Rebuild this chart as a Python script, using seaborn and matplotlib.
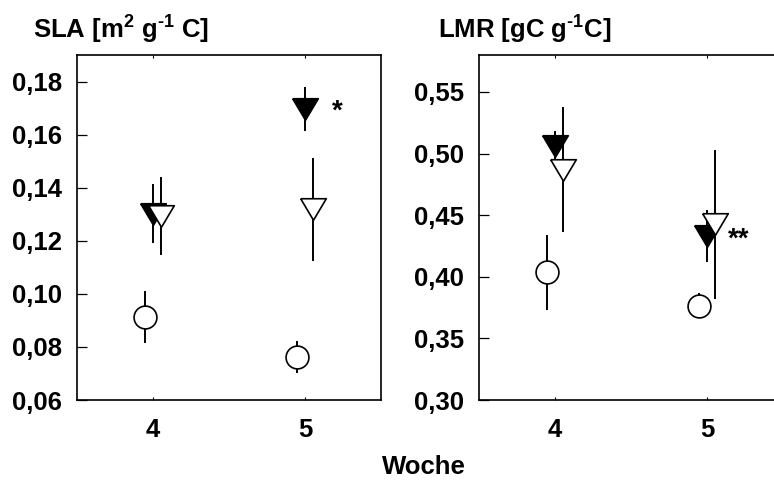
import matplotlib
matplotlib.use("Agg")
import matplotlib.pyplot as plt
from matplotlib.ticker import FuncFormatter, FixedLocator
import numpy as np
import pandas as pd
import seaborn as sns

# ---- data ----
weeks = [4, 5]
series = ["ctrl", "filled", "open"]
offsets = {"ctrl": -0.05, "filled": 0.0, "open": 0.05}

sla_ctrl = [0.0912, 0.0763]
sla_ctrl_err = [0.0097, 0.0060]
sla_filled = [0.1302, 0.1698]
sla_filled_err = [0.0112, 0.0083]
sla_open = [0.1294, 0.1318]
sla_open_err = [0.0146, 0.0193]

lmr_ctrl = [0.4038, 0.3765]
lmr_ctrl_err = [0.0305, 0.0100]
lmr_filled = [0.5065, 0.4330]
lmr_filled_err = [0.0122, 0.0210]
lmr_open = [0.4870, 0.4425]
lmr_open_err = [0.0505, 0.0605]

sla_ticks = [0.06, 0.08, 0.10, 0.12, 0.14, 0.16, 0.18]
lmr_ticks = [0.30, 0.35, 0.40, 0.45, 0.50, 0.55]
week_labels = ["4", "5"]

sla_stars = "*"
lmr_stars = "**"

# ---- style ----
sns.set_theme(style="ticks")
plt.rcParams["font.family"] = ["Liberation Sans", "DejaVu Sans"]
plt.rcParams["font.weight"] = "bold"
plt.rcParams["text.color"] = "black"
plt.rcParams["axes.labelcolor"] = "black"
plt.rcParams["xtick.color"] = "black"
plt.rcParams["ytick.color"] = "black"
plt.rcParams["mathtext.fontset"] = "custom"
plt.rcParams["mathtext.rm"] = "Liberation Sans:bold"
plt.rcParams["mathtext.it"] = "Liberation Sans:bold"
plt.rcParams["mathtext.bf"] = "Liberation Sans:bold"
plt.rcParams["mathtext.default"] = "rm"

# flattened downward triangle
tri_down = [(-1.0, 0.84), (1.0, 0.84), (0.0, -0.84), (-1.0, 0.84)]
styles = {
    "ctrl": dict(marker="o", face="white", s=270),
    "filled": dict(marker=tri_down, face="black", s=340),
    "open": dict(marker=tri_down, face="white", s=340),
}


def frame(vals, errs, name):
    return pd.DataFrame({
        "week": weeks,
        "pos": [w + offsets[name] for w in weeks],
        "value": vals,
        "err": errs,
        "series": name,
    })


sla_df = pd.concat([
    frame(sla_ctrl, sla_ctrl_err, "ctrl"),
    frame(sla_filled, sla_filled_err, "filled"),
    frame(sla_open, sla_open_err, "open"),
], ignore_index=True)
lmr_df = pd.concat([
    frame(lmr_ctrl, lmr_ctrl_err, "ctrl"),
    frame(lmr_filled, lmr_filled_err, "filled"),
    frame(lmr_open, lmr_open_err, "open"),
], ignore_index=True)

W, H = 774, 482
fig = plt.figure(figsize=(W / 100, H / 100), dpi=100)
ax1 = fig.add_axes([77 / W, 1 - 400 / H, 304 / W, 345 / H])
ax2 = fig.add_axes([479 / W, 1 - 400 / H, 304 / W, 345 / H])

comma = FuncFormatter(lambda v, p: f"{v:.2f}".replace(".", ","))


def draw(ax, df, ylim, yticks, stars):
    z = 2
    for name in series:
        d = df[df["series"] == name]
        st = styles[name]
        ax.errorbar(d["pos"], d["value"], yerr=d["err"], fmt="none",
                    ecolor="black", elinewidth=1.4, capsize=0, zorder=z)
        sns.scatterplot(data=d, x="pos", y="value", ax=ax, marker=st["marker"],
                        s=st["s"], color=st["face"], edgecolor="black",
                        linewidth=1.2, zorder=z + 1, legend=False)
        z += 2
    filled = df[(df["series"] == "filled") & (df["week"] == 5)]
    ax.text(5.21, float(filled["value"].iloc[0]), stars, ha="center",
            va="center_baseline", fontsize=20, fontweight="bold", color="black")
    ax.set_xlim(3.5, 5.5)
    ax.set_ylim(*ylim)
    ax.xaxis.set_major_locator(FixedLocator(weeks))
    ax.set_xticklabels(week_labels)
    ax.yaxis.set_major_locator(FixedLocator(yticks))
    ax.yaxis.set_major_formatter(comma)
    ax.set_xlabel("")
    ax.set_ylabel("")
    for sp in ax.spines.values():
        sp.set_visible(True)
        sp.set_linewidth(1.2)
        sp.set_color("black")
    ax.tick_params(axis="y", direction="in", length=7, width=0.9,
                   pad=11, labelsize=18.5, colors="black")
    ax.tick_params(axis="x", direction="in", length=2, width=0.8,
                   pad=13, labelsize=18.5, colors="black", top=True)
    for lab in ax.get_xticklabels() + ax.get_yticklabels():
        lab.set_fontweight("bold")


draw(ax1, sla_df, (0.06, 0.19), sla_ticks, sla_stars)
draw(ax2, lmr_df, (0.30, 0.58), lmr_ticks, lmr_stars)

fig.text(33 / W, 1 - 30 / H, r"SLA [m$^{2}$ g$^{\text{-}1}$ C]", ha="left",
         va="center", fontsize=18.5, fontweight="bold", color="black")
fig.text(438 / W, 1 - 30 / H, r"LMR [gC g$^{\text{-}1}$C]", ha="left",
         va="center", fontsize=18.5, fontweight="bold", color="black")
fig.text(424 / W, 1 - 467 / H, "Woche", ha="center", va="center",
         fontsize=18.5, fontweight="bold", color="black")

fig.savefig("out.png", dpi=100, facecolor="white")
